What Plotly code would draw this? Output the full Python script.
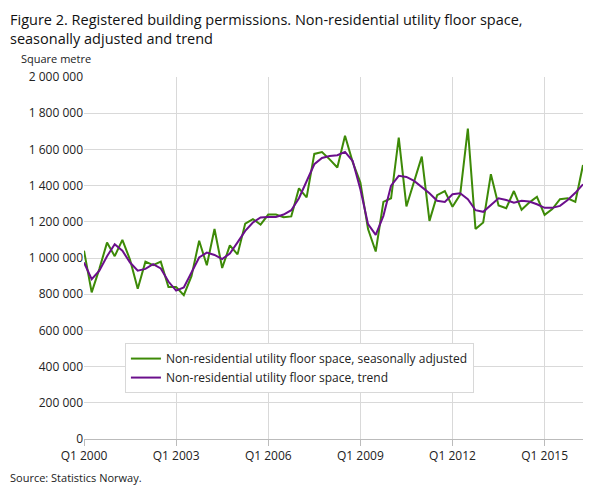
import plotly.graph_objects as go

quarters = [f"Q{q} {y}" for y in range(2000, 2017) for q in range(1, 5)][:66]

seasonally_adjusted = [
    1040000, 810000, 940000, 1085000, 1010000, 1100000, 990000, 830000, 980000, 960000,
    980000, 840000, 840000, 795000, 900000, 1095000, 960000, 1160000, 945000, 1070000,
    1020000, 1190000, 1215000, 1185000, 1240000, 1240000, 1225000, 1230000, 1385000, 1335000,
    1575000, 1585000, 1545000, 1500000, 1675000, 1530000, 1417000, 1160000, 1036000, 1310000,
    1330000, 1665000, 1285000, 1417000, 1560000, 1205000, 1347000, 1370000, 1283000, 1350000,
    1715000, 1160000, 1196000, 1463000, 1290000, 1275000, 1370000, 1266000, 1306000, 1338000,
    1238000, 1270000, 1325000, 1330000, 1310000, 1514000,
]
trend = [
    975000, 883000, 930000, 1010000, 1076000, 1040000, 975000, 930000, 940000, 966000,
    942000, 870000, 820000, 837000, 920000, 1003000, 1030000, 1017000, 994000, 1025000,
    1086000, 1150000, 1196000, 1224000, 1227000, 1227000, 1240000, 1264000, 1330000, 1426000,
    1518000, 1553000, 1564000, 1568000, 1586000, 1536000, 1380000, 1187000, 1128000, 1233000,
    1400000, 1454000, 1448000, 1426000, 1390000, 1358000, 1316000, 1310000, 1352000, 1358000,
    1325000, 1264000, 1255000, 1294000, 1330000, 1320000, 1306000, 1316000, 1312000, 1297000,
    1277000, 1277000, 1288000, 1320000, 1360000, 1407000,
]
tick_labels = ["Q1 2000", "Q1 2003", "Q1 2006", "Q1 2009", "Q1 2012", "Q1 2015"]
y_ticks = list(range(0, 2000001, 200000))

font = "Open Sans"
fig = go.Figure()
fig.add_trace(go.Scatter(x=quarters, y=seasonally_adjusted, mode="lines",
                         name="Non-residential utility floor space, seasonally adjusted",
                         line={"color": "#3d8a07", "width": 2}))
fig.add_trace(go.Scatter(x=quarters, y=trend, mode="lines",
                         name="Non-residential utility floor space, trend",
                         line={"color": "#6b0f8c", "width": 2}))

fig.update_layout(
    width=609, height=488,
    paper_bgcolor="white", plot_bgcolor="white",
    font={"family": font, "color": "#222", "size": 12},
    margin={"l": 76, "r": 34, "t": 69, "b": 57},
    showlegend=True,
    legend={"x": 0.082, "y": 0.265, "xanchor": "left", "yanchor": "top",
            "bgcolor": "white", "bordercolor": "#d8d8d8", "borderwidth": 1,
            "font": {"size": 12}},
    annotations=[
        {"text": "Figure 2. Registered building permissions. Non-residential utility floor space,<br>seasonally adjusted and trend",
         "xref": "paper", "yref": "paper", "x": -0.152, "y": 1.19, "xanchor": "left", "yanchor": "top",
         "showarrow": False, "align": "left", "font": {"size": 14.5, "color": "#111"}},
        {"text": "Square metre", "xref": "paper", "yref": "paper", "x": -0.13, "y": 1.025,
         "xanchor": "left", "yanchor": "bottom", "showarrow": False, "font": {"size": 11}},
        {"text": "Source: Statistics Norway.", "xref": "paper", "yref": "paper", "x": -0.152, "y": -0.105,
         "xanchor": "left", "yanchor": "middle", "showarrow": False, "font": {"size": 11}},
    ],
)
fig.update_xaxes(type="category", range=[0, 65], tickmode="array", tickvals=[quarters[i] for i in range(0, 61, 12)],
                 ticktext=tick_labels, showgrid=True, gridcolor="#d9d9d9", showline=True, linecolor="#bbbbbb",
                 ticks="outside", tickcolor="#bbbbbb", ticklen=6)
fig.update_yaxes(range=[0, 2000000], tickvals=y_ticks,
                 ticktext=[f"{v:,}".replace(",", " ") for v in y_ticks],
                 showgrid=True, gridcolor="#d9d9d9", zeroline=False)

fig.write_html("out.html")
